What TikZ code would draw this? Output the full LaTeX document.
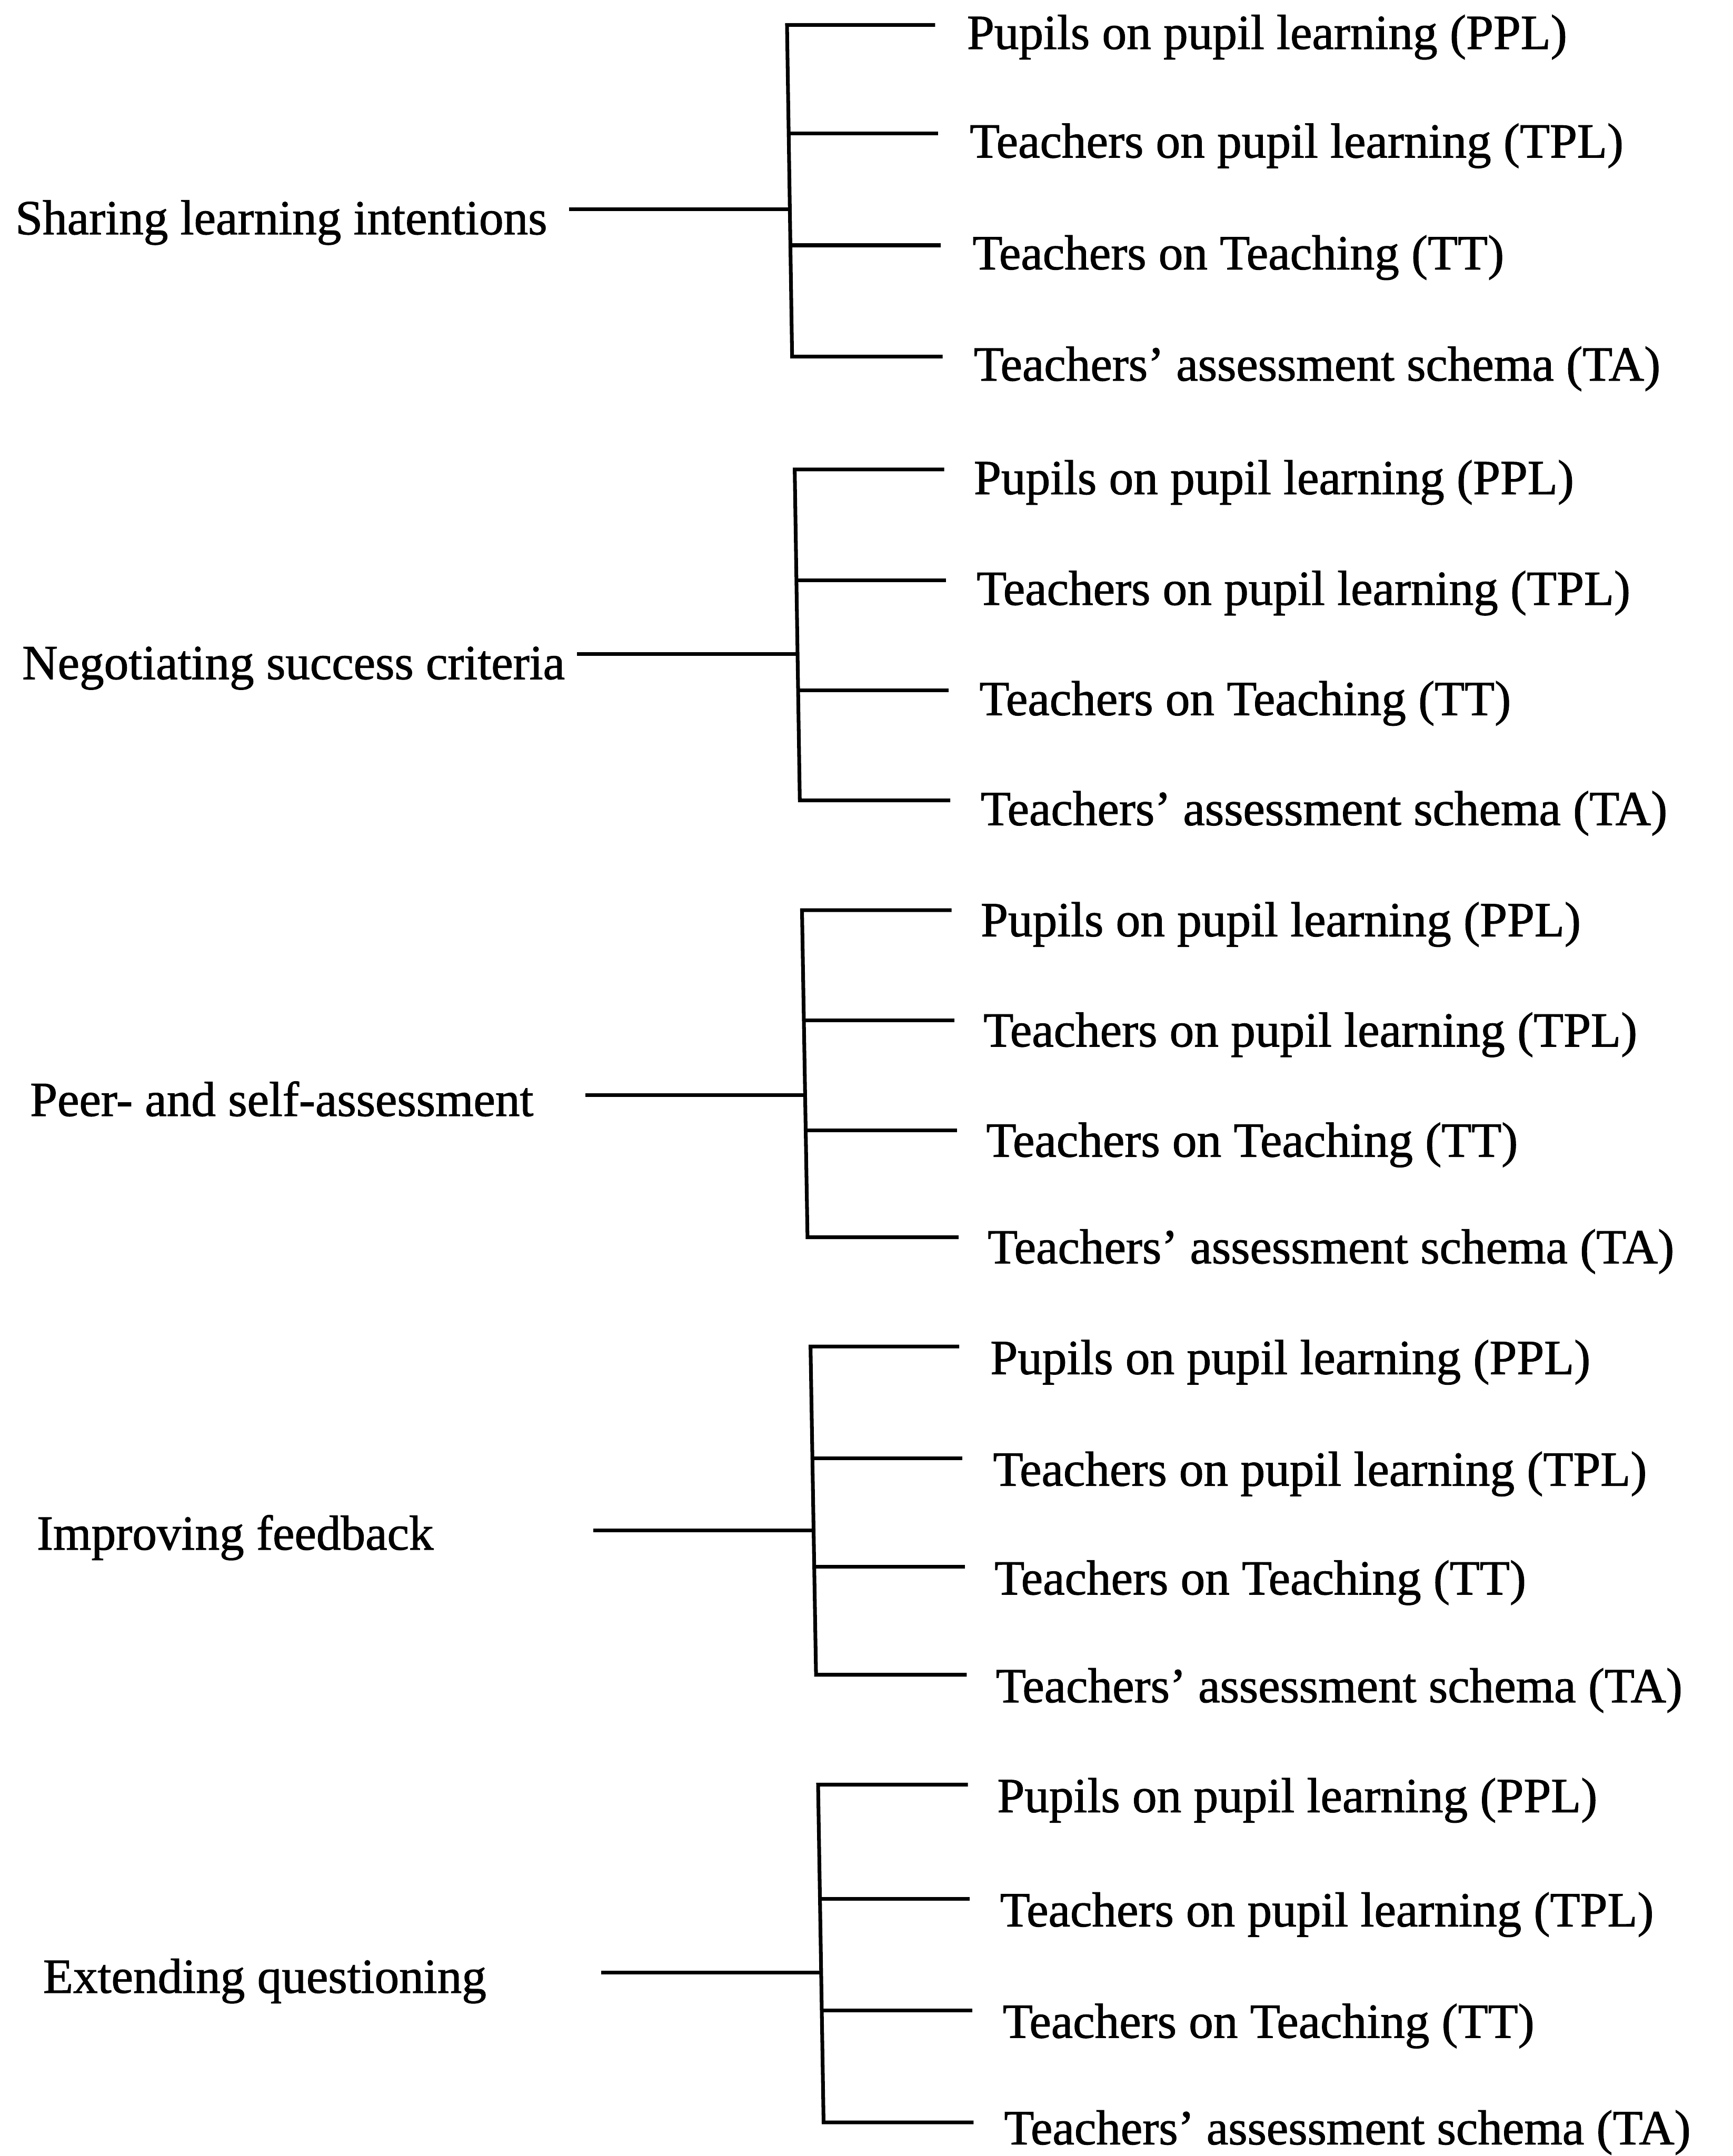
\documentclass[tikz,border=0pt]{standalone}
\usepackage{fontspec}
\setmainfont{Liberation Serif}[FakeBold=1.2]
\begin{document}
\begin{tikzpicture}[x=1pt,y=-1pt,
  txt/.style={anchor=base west,inner sep=0pt,font=\fontsize{35.7}{40}\selectfont},
  link/.style={line width=2.7pt,line join=miter}]
\fill[white] (0,0) rectangle (1260,1568);
\useasboundingbox (0,0) rectangle (1260,1568);

% ---------- Group 1 ----------
\node[txt] (g1) at (11,170.4) {Sharing learning intentions};
\coordinate (g1s) at (413.8,152.3); \coordinate (g1j) at (574.4,152.3);
\coordinate (g1b1) at (572.3,18.1);  \coordinate (g1e1) at (680,18.1);
\coordinate (g1b2) at (573.5,97.1);  \coordinate (g1e2) at (682,97.1);
\coordinate (g1b3) at (574.8,178.4); \coordinate (g1e3) at (684,178.4);
\coordinate (g1b4) at (576,259.3);   \coordinate (g1e4) at (685.5,259.3);
\node[txt] (g1t1) at (703,35.6)  {Pupils on pupil learning (PPL)};
\node[txt] (g1t2) at (705,114.6) {Teachers on pupil learning (TPL)};
\node[txt] (g1t3) at (707,195.9) {Teachers on Teaching (TT)};
\node[txt] (g1t4) at (708,276.8) {Teachers’ assessment schema (TA)};
\draw[link] (g1e1) -- (g1b1) -- (g1b4) -- (g1e4);
\draw[link] (g1b2) -- (g1e2);
\draw[link] (g1b3) -- (g1e3);
\draw[link] (g1s) -- (g1j);

% ---------- Group 2 ----------
\node[txt] (g2) at (16,493.9) {Negotiating success criteria};
\coordinate (g2s) at (419.7,475.6); \coordinate (g2j) at (580,475.6);
\coordinate (g2b1) at (577.9,341.4); \coordinate (g2e1) at (686.6,341.4);
\coordinate (g2b2) at (579.1,421.9); \coordinate (g2e2) at (688,421.9);
\coordinate (g2b3) at (580.4,502.1); \coordinate (g2e3) at (690,502.1);
\coordinate (g2b4) at (581.6,582.1); \coordinate (g2e4) at (691,582.1);
\node[txt] (g2t1) at (708,359.4) {Pupils on pupil learning (PPL)};
\node[txt] (g2t2) at (710,439.9) {Teachers on pupil learning (TPL)};
\node[txt] (g2t3) at (712,520.1) {Teachers on Teaching (TT)};
\node[txt] (g2t4) at (713,600.1) {Teachers’ assessment schema (TA)};
\draw[link] (g2e1) -- (g2b1) -- (g2b4) -- (g2e4);
\draw[link] (g2b2) -- (g2e2);
\draw[link] (g2b3) -- (g2e3);
\draw[link] (g2s) -- (g2j);

% ---------- Group 3 ----------
\node[txt] (g3) at (21.7,811.6) {Peer- and self-assessment};
\coordinate (g3s) at (425.6,796.6); \coordinate (g3j) at (585.5,796.6);
\coordinate (g3b1) at (583.2,661.9); \coordinate (g3e1) at (692,661.9);
\coordinate (g3b2) at (584.5,742.1); \coordinate (g3e2) at (694,742.1);
\coordinate (g3b3) at (585.9,822.2); \coordinate (g3e3) at (696,822.2);
\coordinate (g3b4) at (587.2,899.8); \coordinate (g3e4) at (697,899.8);
\node[txt] (g3t1) at (713,680.9) {Pupils on pupil learning (PPL)};
\node[txt] (g3t2) at (715,761.1) {Teachers on pupil learning (TPL)};
\node[txt] (g3t3) at (717,841.2) {Teachers on Teaching (TT)};
\node[txt] (g3t4) at (718,918.8) {Teachers’ assessment schema (TA)};
\draw[link] (g3e1) -- (g3b1) -- (g3b4) -- (g3e4);
\draw[link] (g3b2) -- (g3e2);
\draw[link] (g3b3) -- (g3e3);
\draw[link] (g3s) -- (g3j);

% ---------- Group 4 ----------
\node[txt] (g4) at (26.6,1127) {Improving feedback};
\coordinate (g4s) at (431.5,1113); \coordinate (g4j) at (591.6,1113);
\coordinate (g4b1) at (589.4,979.3);  \coordinate (g4e1) at (697.5,979.3);
\coordinate (g4b2) at (590.8,1060.5); \coordinate (g4e2) at (699.6,1060.5);
\coordinate (g4b3) at (592.1,1139.6); \coordinate (g4e3) at (701.5,1139.6);
\coordinate (g4b4) at (593.4,1218);   \coordinate (g4e4) at (703,1218);
\node[txt] (g4t1) at (720,999.3)  {Pupils on pupil learning (PPL)};
\node[txt] (g4t2) at (722,1080.5) {Teachers on pupil learning (TPL)};
\node[txt] (g4t3) at (723,1159.6) {Teachers on Teaching (TT)};
\node[txt] (g4t4) at (724,1238)   {Teachers’ assessment schema (TA)};
\draw[link] (g4e1) -- (g4b1) -- (g4b4) -- (g4e4);
\draw[link] (g4b2) -- (g4e2);
\draw[link] (g4b3) -- (g4e3);
\draw[link] (g4s) -- (g4j);

% ---------- Group 5 ----------
\node[txt] (g5) at (31.2,1449.3) {Extending questioning};
\coordinate (g5s) at (437,1434.7); \coordinate (g5j) at (597.1,1434.7);
\coordinate (g5b1) at (594.9,1297.9); \coordinate (g5e1) at (703.8,1297.9);
\coordinate (g5b2) at (596.3,1381);   \coordinate (g5e2) at (705.3,1381);
\coordinate (g5b3) at (597.6,1462);   \coordinate (g5e3) at (707,1462);
\coordinate (g5b4) at (598.9,1543.5); \coordinate (g5e4) at (708,1543.5);
\node[txt] (g5t1) at (725,1317.9) {Pupils on pupil learning (PPL)};
\node[txt] (g5t2) at (727,1401)   {Teachers on pupil learning (TPL)};
\node[txt] (g5t3) at (729,1482)   {Teachers on Teaching (TT)};
\node[txt] (g5t4) at (730,1559.5) {Teachers’ assessment schema (TA)};
\draw[link] (g5e1) -- (g5b1) -- (g5b4) -- (g5e4);
\draw[link] (g5b2) -- (g5e2);
\draw[link] (g5b3) -- (g5e3);
\draw[link] (g5s) -- (g5j);
\end{tikzpicture}
\end{document}
